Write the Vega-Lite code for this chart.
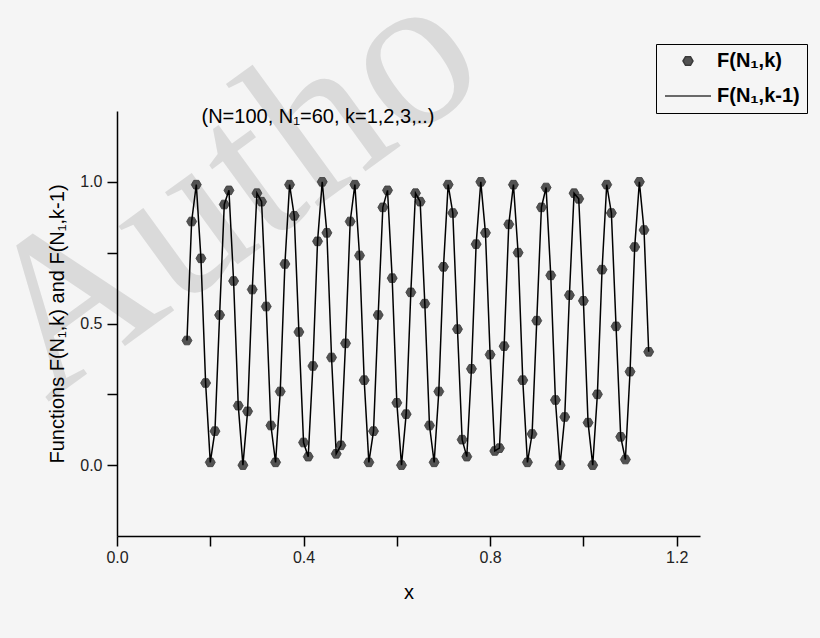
{
  "$schema": "https://vega.github.io/schema/vega-lite/v6.json",
  "width": 583,
  "height": 425,
  "autosize": {"type": "none"},
  "padding": {"left": 117, "top": 111, "right": 120, "bottom": 102},
  "background": "#f5f5f5",
  "config": {"view": {"stroke": null}, "font": "Liberation Sans"},
  "data": {
    "values": [
      {"x": 0.15, "F": 0.44}, {"x": 0.16, "F": 0.86}, {"x": 0.17, "F": 0.99}, {"x": 0.18, "F": 0.73},
      {"x": 0.19, "F": 0.29}, {"x": 0.20, "F": 0.01}, {"x": 0.21, "F": 0.12}, {"x": 0.22, "F": 0.53},
      {"x": 0.23, "F": 0.92}, {"x": 0.24, "F": 0.97}, {"x": 0.25, "F": 0.65}, {"x": 0.26, "F": 0.21},
      {"x": 0.27, "F": 0.00}, {"x": 0.28, "F": 0.19}, {"x": 0.29, "F": 0.62}, {"x": 0.30, "F": 0.96},
      {"x": 0.31, "F": 0.93}, {"x": 0.32, "F": 0.56}, {"x": 0.33, "F": 0.14}, {"x": 0.34, "F": 0.01},
      {"x": 0.35, "F": 0.26}, {"x": 0.36, "F": 0.71}, {"x": 0.37, "F": 0.99}, {"x": 0.38, "F": 0.88},
      {"x": 0.39, "F": 0.47}, {"x": 0.40, "F": 0.08}, {"x": 0.41, "F": 0.03}, {"x": 0.42, "F": 0.35},
      {"x": 0.43, "F": 0.79}, {"x": 0.44, "F": 1.00}, {"x": 0.45, "F": 0.82}, {"x": 0.46, "F": 0.38},
      {"x": 0.47, "F": 0.04}, {"x": 0.48, "F": 0.07}, {"x": 0.49, "F": 0.43}, {"x": 0.50, "F": 0.86},
      {"x": 0.51, "F": 0.99}, {"x": 0.52, "F": 0.74}, {"x": 0.53, "F": 0.30}, {"x": 0.54, "F": 0.01},
      {"x": 0.55, "F": 0.12}, {"x": 0.56, "F": 0.53}, {"x": 0.57, "F": 0.91}, {"x": 0.58, "F": 0.97},
      {"x": 0.59, "F": 0.66}, {"x": 0.60, "F": 0.22}, {"x": 0.61, "F": 0.00}, {"x": 0.62, "F": 0.18},
      {"x": 0.63, "F": 0.61}, {"x": 0.64, "F": 0.96}, {"x": 0.65, "F": 0.93}, {"x": 0.66, "F": 0.57},
      {"x": 0.67, "F": 0.14}, {"x": 0.68, "F": 0.01}, {"x": 0.69, "F": 0.26}, {"x": 0.70, "F": 0.70},
      {"x": 0.71, "F": 0.99}, {"x": 0.72, "F": 0.89}, {"x": 0.73, "F": 0.48}, {"x": 0.74, "F": 0.09},
      {"x": 0.75, "F": 0.03}, {"x": 0.76, "F": 0.34}, {"x": 0.77, "F": 0.78}, {"x": 0.78, "F": 1.00},
      {"x": 0.79, "F": 0.82}, {"x": 0.80, "F": 0.39}, {"x": 0.81, "F": 0.05}, {"x": 0.82, "F": 0.06},
      {"x": 0.83, "F": 0.42}, {"x": 0.84, "F": 0.85}, {"x": 0.85, "F": 0.99}, {"x": 0.86, "F": 0.75},
      {"x": 0.87, "F": 0.30}, {"x": 0.88, "F": 0.01}, {"x": 0.89, "F": 0.11}, {"x": 0.90, "F": 0.51},
      {"x": 0.91, "F": 0.91}, {"x": 0.92, "F": 0.98}, {"x": 0.93, "F": 0.67}, {"x": 0.94, "F": 0.23},
      {"x": 0.95, "F": 0.00}, {"x": 0.96, "F": 0.17}, {"x": 0.97, "F": 0.60}, {"x": 0.98, "F": 0.96},
      {"x": 0.99, "F": 0.94}, {"x": 1.00, "F": 0.58}, {"x": 1.01, "F": 0.15}, {"x": 1.02, "F": 0.00},
      {"x": 1.03, "F": 0.25}, {"x": 1.04, "F": 0.69}, {"x": 1.05, "F": 0.99}, {"x": 1.06, "F": 0.89},
      {"x": 1.07, "F": 0.49}, {"x": 1.08, "F": 0.10}, {"x": 1.09, "F": 0.02}, {"x": 1.10, "F": 0.33},
      {"x": 1.11, "F": 0.77}, {"x": 1.12, "F": 1.00}, {"x": 1.13, "F": 0.83}, {"x": 1.14, "F": 0.40}
    ]
  },
  "layer": [
    {
      "data": {"values": [{"label": "Autho"}]},
      "mark": {"type": "text", "font": "Liberation Serif", "fontSize": 220, "angle": 324, "align": "left", "baseline": "alphabetic", "color": "#dadada"},
      "encoding": {
        "x": {"datum": -0.15, "type": "quantitative", "scale": {"domain": [0, 1.25], "nice": false, "zero": false}},
        "y": {"datum": 0.22, "type": "quantitative", "scale": {"domain": [-0.25, 1.25], "nice": false, "zero": false}},
        "text": {"field": "label", "type": "nominal"}
      }
    },
    {
      "data": {"values": [{"label": "(N=100, N₁=60, k=1,2,3,..)"}]},
      "mark": {"type": "text", "fontSize": 20, "align": "center", "baseline": "middle", "color": "black"},
      "encoding": {
        "x": {"datum": 0.431, "type": "quantitative", "scale": {"domain": [0, 1.25], "nice": false, "zero": false}},
        "y": {"datum": 1.228, "type": "quantitative", "scale": {"domain": [-0.25, 1.25], "nice": false, "zero": false}},
        "text": {"field": "label", "type": "nominal"}
      }
    },
    {
      "mark": {"type": "point", "filled": true, "size": 100, "color": "#525252", "opacity": 1, "stroke": "#3a3a3a", "strokeWidth": 0.8},
      "encoding": {
        "x": {
          "field": "x", "type": "quantitative",
          "scale": {"domain": [0, 1.25], "nice": false, "zero": false},
          "axis": {
            "title": "x", "values": [0, 0.2, 0.4, 0.6, 0.8, 1.0, 1.2], "format": ".1f", "zindex": 1,
            "labelExpr": "round(datum.value * 10) % 4 == 0 ? datum.label : ''",
            "tickSize": 10,
            "encode": {"ticks": {"y2": {"value": {"expr": "round(datum.value * 10) % 4 == 0 ? 10 : 6"}}}},
            "grid": false, "domainColor": "black", "domainWidth": 1.5, "tickColor": "black", "tickWidth": 1.5,
            "labelFontSize": 16, "labelColor": "#222", "labelPadding": 3, "labelFlush": false,
            "titleFontSize": 20, "titleFontWeight": "normal", "titleColor": "black", "titlePadding": 17
          }
        },
        "y": {
          "field": "F", "type": "quantitative",
          "scale": {"domain": [-0.25, 1.25], "nice": false, "zero": false},
          "axis": {
            "title": "Functions F(N₁,k) and F(N₁,k-1)", "values": [0, 0.25, 0.5, 0.75, 1.0], "format": ".1f", "zindex": 1,
            "labelExpr": "round(datum.value * 4) % 2 == 0 ? datum.label : ''",
            "tickSize": 10,
            "encode": {"ticks": {"x2": {"value": {"expr": "round(datum.value * 4) % 2 == 0 ? -10 : -6"}}}},
            "grid": false, "domainColor": "black", "domainWidth": 1.5, "tickColor": "black", "tickWidth": 1.5,
            "labelFontSize": 16, "labelColor": "#222", "labelPadding": 5,
            "titleFontSize": 20, "titleFontWeight": "normal", "titleColor": "black", "titlePadding": 12
          }
        },
        "shape": {
          "datum": "F(N₁,k)", "type": "nominal",
          "scale": {
            "domain": ["F(N₁,k)", "F(N₁,k-1)"],
            "range": ["M-1,0L-0.5,-0.866L0.5,-0.866L1,0L0.5,0.866L-0.5,0.866Z", "M-4.6,0L4.6,0"]
          },
          "legend": {
            "title": null, "orient": "none", "legendX": 539, "legendY": -67, "direction": "vertical",
            "padding": 7, "strokeColor": "black",
            "symbolSize": 100, "symbolOffset": 15, "labelOffset": 19, "rowPadding": 15,
            "labelFontSize": 20, "labelFontWeight": "bold", "labelColor": "black", "labelLimit": 300,
            "encode": {
              "symbols": {
                "fill": {"value": {"expr": "datum.value === 'F(N₁,k)' ? '#525252' : 'transparent'"}},
                "stroke": {"value": {"expr": "datum.value === 'F(N₁,k)' ? '#3a3a3a' : 'black'"}},
                "strokeWidth": {"value": {"expr": "datum.value === 'F(N₁,k)' ? 0.8 : 1.5"}},
                "opacity": {"value": 1}
              }
            }
          }
        }
      }
    },
    {
      "mark": {"type": "line", "color": "black", "strokeWidth": 1.5},
      "encoding": {
        "x": {"field": "x", "type": "quantitative", "scale": {"domain": [0, 1.25], "nice": false, "zero": false}},
        "y": {"field": "F", "type": "quantitative", "scale": {"domain": [-0.25, 1.25], "nice": false, "zero": false}}
      }
    }
  ]
}
